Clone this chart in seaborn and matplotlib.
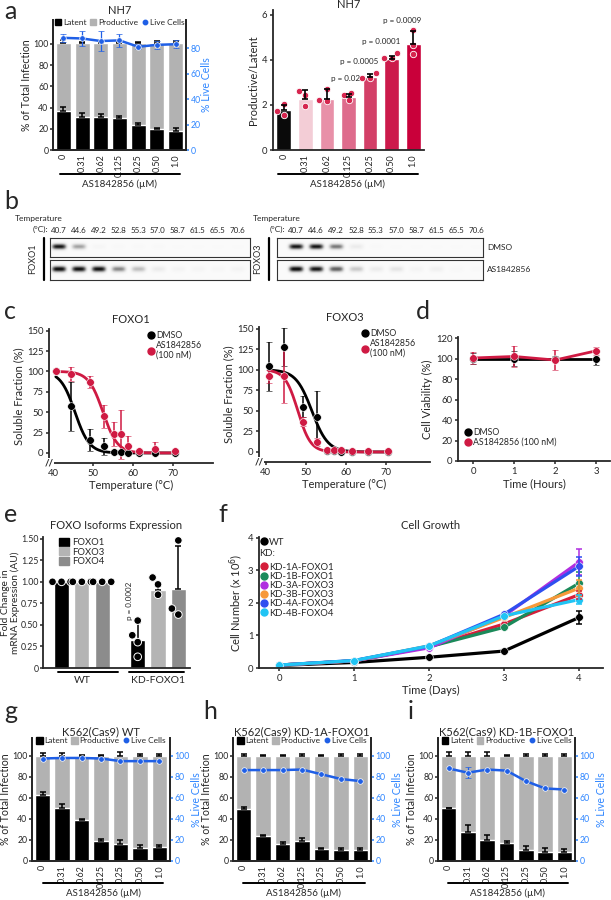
import numpy as np
import pandas as pd
import matplotlib
matplotlib.use("Agg")
import matplotlib.pyplot as plt
import seaborn as sns
from matplotlib.lines import Line2D
from matplotlib.patches import Patch

# ---------------- data ----------------
doses = ["0", "0.31", "0.62", "0.125", "0.25", "0.50", "1.0"]

# a, NH7 latent / productive
nh7_latent = [37, 31, 31, 30, 24, 20, 18]
nh7_latent_err = [4, 4, 3, 2, 1, 1, 2.5]
nh7_total = [101, 101, 101, 101, 101, 101, 101]
nh7_total_err = [3, 0.5, 0.5, 0.5, 1, 1.5, 1.5]
nh7_live = [88, 87.5, 85.5, 86, 81, 82.5, 83]
nh7_live_err = [3, 6, 8, 5, 2, 3, 3]

# a, productive / latent ratio
ratio_mean = [1.75, 2.27, 2.26, 2.33, 3.25, 4.05, 4.7]
ratio_err = [0.25, 0.38, 0.42, 0.15, 0.12, 0.1, 0.55]
ratio_pts = [[2.05, 1.57, 1.71], [2.45, 1.97, 2.63], [2.19, 2.7, 2.23], [2.2, 2.51, 2.45],
             [3.21, 3.43, 3.21], [4.06, 4.3, 4.06], [5.33, 4.67, 4.23]]
ratio_colors = ["#0a0a0a", "#f3cdd6", "#e890a8", "#de6b8c", "#d33f67", "#cc1a4b", "#c9003a"]
ratio_p = ["p = 0.02", "p = 0.0005", "p = 0.0001", "p = 0.0009"]

# b, western blot band intensities
blot_temps = ["40.7", "44.6", "49.2", "52.8", "55.3", "57.0", "58.7", "61.5", "65.5", "70.6"]
foxo1_dmso_band = [0.95, 0.45, 0.04, 0.02, 0.02, 0.02, 0.01, 0.01, 0.01, 0.01]
foxo1_as_band = [1.0, 0.97, 0.97, 0.55, 0.35, 0.12, 0.06, 0.05, 0.04, 0.06]
foxo3_dmso_band = [0.95, 0.95, 0.6, 0.12, 0.02, 0.01, 0.01, 0.01, 0.01, 0.01]
foxo3_as_band = [1.0, 0.95, 0.7, 0.3, 0.12, 0.16, 0.06, 0.09, 0.03, 0.02]

# c, thermal shift
c_temps = [40.7, 44.6, 49.2, 52.8, 55.3, 57.0, 58.7, 61.5, 65.5, 70.6]
foxo1_dmso = [100, 57, 16, 8, 1, 1, 0, 0, 0, 0]
foxo1_dmso_err = [0, 30, 14, 10, 1, 1, 1, 0, 0, 0]
foxo1_as = [100, 97, 87, 45, 23, 23, 9, 3, 5, 2]
foxo1_as_err = [1, 9, 7, 14, 15, 30, 12, 1, 8, 1]
foxo3_dmso = [104, 128, 55, 42, 1, 1, 0, 0, 0, 0]
foxo3_dmso_err = [30, 23, 13, 32, 2, 2, 1, 1, 1, 1]
foxo3_as = [92, 93, 37, 12, 3, 2, 2, 1, 1, 1]
foxo3_as_err = [8, 33, 6, 5, 1, 1, 1, 1, 1, 1]
# fitted melting curves (Tm, slope)
fit_foxo1_dmso = (45.5, 1.8)
fit_foxo1_as = (52.5, 1.8)
fit_foxo3_dmso = (51.5, 2.0)
fit_foxo3_as = (48.0, 1.6)

# d, cell viability
d_hours = [0, 1, 2, 3]
d_dmso = [100, 100, 100, 100]
d_dmso_err = [5, 7, 2, 6]
d_as = [100.5, 102, 98.5, 107.5]
d_as_err = [6, 10, 10, 4]

# e, FOXO isoform expression
e_groups = ["WT", "KD-FOXO1"]
e_iso = ["FOXO1", "FOXO3", "FOXO4"]
e_wt_mean = [1.0, 1.0, 1.0]
e_kd_mean = [0.33, 0.91, 0.92]
e_kd_err = [0.19, 0.07, 0.5]
e_wt_pts = [[1.0, 1.0, 1.0], [1.0, 1.0, 1.0], [1.0, 1.0, 1.0]]
e_kd_pts = [[0.55, 0.38, 0.30, 0.13], [1.05, 0.97, 0.85], [1.48, 0.69, 0.62]]
e_colors = ["#000000", "#b4b4b4", "#8c8c8c"]

# f, cell growth
f_days = [0, 1, 2, 3, 4]
f_lines = ["WT", "KD-1A-FOXO1", "KD-1B-FOXO1", "KD-3A-FOXO3", "KD-3B-FOXO3", "KD-4A-FOXO4", "KD-4B-FOXO4"]
f_colors = ["#000000", "#d51e3a", "#1b8a5a", "#b02ee0", "#f7993a", "#2f4ff0", "#20c4f4"]
f_wt = [0.08, 0.17, 0.33, 0.52, 1.55]
f_1a = [0.09, 0.22, 0.65, 1.35, 2.25]
f_1b = [0.09, 0.22, 0.65, 1.25, 2.6]
f_3a = [0.09, 0.22, 0.62, 1.6, 3.25]
f_3b = [0.09, 0.22, 0.68, 1.55, 2.45]
f_4a = [0.09, 0.23, 0.67, 1.65, 3.12]
f_4b = [0.09, 0.23, 0.68, 1.6, 2.1]
f_err_day4 = [0.2, 0.12, 0.35, 0.4, 0.25, 0.3, 0.15]

# g, h, i
g_latent = [63, 50, 39, 19.5, 16, 12.5, 13]
g_latent_err = [3, 4, 1, 1.5, 4, 2.5, 2.5]
g_total_err = [2.5, 3, 1, 1, 4, 1.5, 1.5]
g_live = [97.5, 98, 98, 97.5, 95, 95, 95]

h_latent = [49, 24, 16, 19, 11, 10.5, 10]
h_latent_err = [2, 1, 2, 2.5, 1.5, 2, 2]
h_total_err = [1.5, 1, 1, 2, 1, 1.5, 1.5]
h_live = [86.5, 86.5, 86.5, 87, 82.5, 78, 76]

i_latent = [50, 28, 20, 17.5, 10.5, 9, 9]
i_latent_err = [0.5, 6, 5, 2, 4, 3, 2.5]
i_total_err = [4, 4, 4, 1, 2, 2, 2]
i_live = [88, 84, 87, 86, 76, 69, 68]
i_live_err = [0, 5, 0, 0, 0, 0, 0]

full_total = [100] * 7

# ---------------- style ----------------
sns.set_theme(style="ticks")
plt.rcParams["font.family"] = ["Lato", "DejaVu Sans"]
plt.rcParams.update({
    "axes.linewidth": 1.3, "xtick.major.width": 1.1, "ytick.major.width": 1.1,
    "xtick.major.size": 2.5, "ytick.major.size": 2.5,
    "xtick.labelsize": 6.8, "ytick.labelsize": 6.8, "axes.labelsize": 8,
    "xtick.major.pad": 1.5, "ytick.major.pad": 1.5, "axes.labelpad": 2,
})

W, H = 611, 900
fig = plt.figure(figsize=(W / 100, H / 100), dpi=100)

GRAY = "#b2b2b2"
BLUE_TXT = "#2f86ff"
BLUE_LINE = "#1f5fe6"
RED = "#cf1a43"


def box(x0, y0, x1, y1):
    return fig.add_axes([x0 / W, 1 - y1 / H, (x1 - x0) / W, (y1 - y0) / H])


def ftext(x, y, s, **kw):
    fig.text(x / W, 1 - y / H, s, **kw)


def hline(x0, x1, y, lw=1.4):
    fig.add_artist(Line2D([x0 / W, x1 / W], [1 - y / H, 1 - y / H], color="black", lw=lw))


def infection_panel(ax, latent, latent_err, total, total_err, live, live_err,
                    ylim_l, ylim_r, r_ticks, title=None):
    n = len(doses)
    pos = np.arange(n)
    df = pd.DataFrame({"dose": doses, "latent": latent, "total": total})
    sns.barplot(data=df, x="dose", y="total", order=doses, color=GRAY, saturation=1,
                width=0.8, ax=ax)
    sns.barplot(data=df, x="dose", y="latent", order=doses, color="black", saturation=1,
                width=0.8, ax=ax)
    ax.errorbar(pos, total, yerr=[np.zeros(n), total_err], fmt="none", ecolor="black",
                capsize=2.2, elinewidth=1.1, capthick=1.1)
    ax.errorbar(pos, latent, yerr=[np.zeros(n), latent_err], fmt="none", ecolor="black",
                capsize=2.2, elinewidth=1.1, capthick=1.1)
    ax.set_ylim(*ylim_l)
    ax.set_yticks([0, 20, 40, 60, 80, 100])
    ax.set_xlabel("")
    ax.set_ylabel("% of Total Infection", fontsize=7.6, labelpad=0.5)
    ax.tick_params(axis="y", labelsize=6.3, length=2.2, pad=1)
    ax.tick_params(axis="x", rotation=90, length=0, pad=3, labelsize=6.5)
    ax.spines["top"].set_visible(False)
    ax.set_xlim(-0.55, n - 0.45)

    ax2 = ax.twinx()
    ax2.errorbar(pos, live, yerr=live_err, color=BLUE_LINE, marker="o", ms=4,
                 mec="white", mew=0.5, lw=1.8, capsize=2, elinewidth=0.9, capthick=0.9)
    ax2.set_ylim(*ylim_r)
    ax2.set_yticks(r_ticks)
    ax2.tick_params(axis="y", colors=BLUE_TXT, labelsize=6.3, length=2.2, pad=1)
    ax2.set_ylabel("% Live Cells", color=BLUE_TXT, fontsize=7.6, labelpad=0.5)
    ax2.spines["top"].set_visible(False)
    ax2.spines["right"].set_linewidth(1.3)

    handles = [Patch(color="black", label="Latent"), Patch(color=GRAY, label="Productive"),
               Line2D([], [], color=BLUE_LINE, marker="o", ls="", ms=3.2, label="Live Cells")]
    ax2.legend(handles=handles, loc="upper center", bbox_to_anchor=(0.5, 1.04), ncol=3,
               frameon=False, fontsize=6, handlelength=0.8, handleheight=0.8,
               handletextpad=0.2, columnspacing=0.4, borderpad=0)
    if title:
        ax.set_title(title, fontsize=8, pad=2)
    return ax2


# ---------------- panel a ----------------
ax = box(53, 20, 186, 150)
infection_panel(ax, nh7_latent, nh7_latent_err, nh7_total, nh7_total_err, nh7_live,
                nh7_live_err, (0, 122.6), (0, 102), [0, 20, 40, 60, 80])
ax.set_title("NH7", fontsize=8, pad=4)
hline(60, 180, 174)
ftext(120, 184, "AS1842856 (\u00b5M)", ha="center", va="center", fontsize=7)

ax = box(273, 10, 424, 150)
n = len(doses)
rdf = pd.DataFrame({"dose": doses, "ratio": ratio_mean})
sns.barplot(data=rdf, x="dose", y="ratio", hue="dose", order=doses, hue_order=doses,
            palette=dict(zip(doses, ratio_colors)), legend=False, saturation=1,
            width=0.68, ax=ax)
pdf = pd.DataFrame({"dose": np.repeat(doses, 3), "ratio": np.concatenate(ratio_pts)})
sns.swarmplot(data=pdf, x="dose", y="ratio", order=doses, color="#d6264f", size=4.6,
              edgecolor="white", linewidth=0.6, ax=ax, zorder=3)
ax.errorbar(np.arange(n), ratio_mean, yerr=[np.zeros(n), ratio_err], fmt="none",
            ecolor="black", capsize=2.2, elinewidth=1.2, capthick=1.2, zorder=4)
ax.set_ylim(0, 6.2)
ax.set_yticks([0, 2, 4, 6])
ax.set_xlim(-0.5, n - 0.5)
ax.set_xlabel("")
ax.set_ylabel("Productive/Latent")
ax.tick_params(axis="x", rotation=90, length=0, pad=3, labelsize=6.5)
sns.despine(ax=ax)
ax.set_title("NH7", fontsize=8, pad=0)
for xx, yy, s in [(3.55, 3.18, ratio_p[0]), (4.4, 3.91, ratio_p[1]),
                  (5.38, 4.82, ratio_p[2]), (6.36, 5.74, ratio_p[3])]:
    ax.text(xx, yy, s, ha="right", va="center", fontsize=5.8)
hline(278, 418, 174)
ftext(348, 184, "AS1842856 (\u00b5M)", ha="center", va="center", fontsize=7)

# ---------------- panel b ----------------


def blot(ax, intens, xlim):
    xs = np.linspace(xlim[0], xlim[1], 500)
    ys = np.linspace(0, 1, 50)
    X, Y = np.meshgrid(xs, ys)
    img = np.full(X.shape, 0.04)
    for k, v in enumerate(intens):
        img += v * np.exp(-((X - k) / 0.36) ** 4) * np.exp(-((Y - 0.45) / 0.15) ** 2)
    ax.imshow(np.clip(img, 0, 1), cmap="Greys", vmin=0, vmax=1.05, aspect="auto",
              extent=(xlim[0], xlim[1], 1, 0), interpolation="bilinear")
    ax.set_xlim(*xlim)
    ax.set_xticks([])
    ax.set_yticks([])
    for s in ax.spines.values():
        s.set_linewidth(0.8)
        s.set_color("#333333")


xl1 = (-0.45, 9.65)
ax = box(50, 238, 250, 257)
blot(ax, foxo1_dmso_band, xl1)
for k, t in enumerate(blot_temps):
    ax.text(k, 1.22, t, transform=ax.get_xaxis_transform(), ha="center", va="bottom", fontsize=5.8)
ax = box(50, 260, 250, 280)
blot(ax, foxo1_as_band, xl1)
ftext(15, 218, "Temperature", fontsize=6, va="center")
ftext(48, 229, "(\u00b0C):", fontsize=6, va="center", ha="right")
ftext(33, 259, "FOXO1", fontsize=6.5, rotation=90, ha="center", va="center")
fig.add_artist(Line2D([44 / W, 44 / W], [1 - 238 / H, 1 - 280 / H], color="black", lw=1.6))

xl2 = (-0.95, 9.35)
ax = box(277, 238, 483, 257)
blot(ax, foxo3_dmso_band, xl2)
for k, t in enumerate(blot_temps):
    ax.text(k, 1.22, t, transform=ax.get_xaxis_transform(), ha="center", va="bottom", fontsize=5.8)
ax = box(277, 260, 483, 280)
blot(ax, foxo3_as_band, xl2)
ftext(253, 218, "Temperature", fontsize=6, va="center")
ftext(285, 229, "(\u00b0C):", fontsize=6, va="center", ha="right")
ftext(258, 259, "FOXO3", fontsize=6.5, rotation=90, ha="center", va="center")
fig.add_artist(Line2D([269 / W, 269 / W], [1 - 238 / H, 1 - 280 / H], color="black", lw=1.6))
ftext(487, 248, "DMSO", fontsize=6, va="center")
ftext(487, 270, "AS1842856", fontsize=6, va="center")

# ---------------- panel c ----------------


def melt_curve(tm, slope):
    grid = np.linspace(c_temps[0], c_temps[-1], 300)
    return grid, 100 / (1 + np.exp((grid - tm) / slope))


def cetsa(ax, dm, dm_err, asv, as_err, fit_dm, fit_as, title):
    gx, gy = melt_curve(*fit_dm)
    sns.lineplot(x=gx, y=gy, color="black", lw=2.0, ax=ax)
    ax.errorbar(c_temps, dm, yerr=dm_err, fmt="o", color="black", ms=5.5, mec="white",
                mew=0.4, capsize=2, elinewidth=1.1, capthick=1.1)
    gx, gy = melt_curve(*fit_as)
    sns.lineplot(x=gx, y=gy, color=RED, lw=2.0, ax=ax)
    ax.errorbar(c_temps, asv, yerr=as_err, fmt="o", color=RED, ms=5.5, mec="white",
                mew=0.4, capsize=2, elinewidth=1.1, capthick=1.1)
    ax.set_yticks([0, 25, 50, 75, 100, 125, 150])
    ax.set_xticks([40, 50, 60, 70])
    ax.set_xlabel("Temperature (\u00b0C)")
    ax.set_ylabel("Soluble Fraction (%)")
    ax.set_title(title, fontsize=8, pad=4)
    sns.despine(ax=ax)
    ax.text(0, 0, "//", transform=ax.transAxes, ha="center", va="center", fontsize=7,
            fontweight="bold", bbox=dict(fc="white", ec="none", pad=0.3))
    handles = [Line2D([], [], color="black", marker="o", ls="", ms=5, label="DMSO"),
               Line2D([], [], color=RED, marker="o", ls="", ms=5, label="AS1842856\n(100 nM)")]
    ax.legend(handles=handles, loc="upper left", bbox_to_anchor=(0.58, 1.02), frameon=False,
              fontsize=6.3, handlelength=0.6, handletextpad=0.3, labelspacing=0.1, borderpad=0)


ax = box(49, 329, 213, 463)
cetsa(ax, foxo1_dmso, foxo1_dmso_err, foxo1_as, foxo1_as_err, fit_foxo1_dmso, fit_foxo1_as, "FOXO1")
ax.set_xlim(39, 80)
ax.set_ylim(-12.3, 152)

ax = box(259, 327, 430, 462)
cetsa(ax, foxo3_dmso, foxo3_dmso_err, foxo3_as, foxo3_as_err, fit_foxo3_dmso, fit_foxo3_as, "FOXO3")
ax.set_xlim(38.3, 81)
ax.set_ylim(-12.2, 152)

# ---------------- panel d ----------------
ax = box(458, 337, 610, 461)
sns.lineplot(x=d_hours, y=d_dmso, color="black", lw=2.0, ax=ax)
ax.errorbar(d_hours, d_dmso, yerr=d_dmso_err, fmt="o", color="black", ms=5.5, mec="white",
            mew=0.4, capsize=2, elinewidth=1.1, capthick=1.1)
sns.lineplot(x=d_hours, y=d_as, color=RED, lw=2.0, ax=ax)
ax.errorbar(d_hours, d_as, yerr=d_as_err, fmt="o", color=RED, ms=5.5, mec="white",
            mew=0.4, capsize=2, elinewidth=1.1, capthick=1.1)
ax.set_xlim(-0.37, 3.34)
ax.set_ylim(0, 121)
ax.set_yticks([0, 20, 40, 60, 80, 100, 120])
ax.set_xticks([0, 1, 2, 3])
ax.set_xlabel("Time (Hours)")
ax.set_ylabel("Cell Viability (%)")
sns.despine(ax=ax)
handles = [Line2D([], [], color="black", marker="o", ls="", ms=5, label="DMSO"),
           Line2D([], [], color=RED, marker="o", ls="", ms=5, label="AS1842856 (100 nM)")]
ax.legend(handles=handles, loc="lower left", bbox_to_anchor=(0.02, 0.08), frameon=False,
          fontsize=6.3, handlelength=0.6, handletextpad=0.3, labelspacing=0.1, borderpad=0)

# ---------------- panel e ----------------
ax = box(43, 537, 190, 668)
edf = pd.DataFrame({"group": np.repeat(e_groups, 3), "iso": e_iso * 2,
                    "val": e_wt_mean + e_kd_mean})
sns.barplot(data=edf, x="group", y="val", hue="iso", order=e_groups, hue_order=e_iso,
            palette=dict(zip(e_iso, e_colors)), saturation=1, width=0.8, gap=0.25,
            legend=False, ax=ax)
bars = list(ax.patches)
errs = []
for k in range(3):
    errs += [0.0, e_kd_err[k]]
for p, er in zip(bars, errs):
    if er > 0:
        ax.errorbar(p.get_x() + p.get_width() / 2, p.get_height(), yerr=[[0], [er]],
                    fmt="none", ecolor="black", capsize=2.5, elinewidth=1.1, capthick=1.1)
rows = []
for g, pts_list in zip(e_groups, [e_wt_pts, e_kd_pts]):
    for iso, pts in zip(e_iso, pts_list):
        for v in pts:
            rows.append({"group": g, "iso": iso, "val": v})
sdf = pd.DataFrame(rows)
sns.swarmplot(data=sdf, x="group", y="val", hue="iso", order=e_groups, hue_order=e_iso,
              dodge=True, palette={k: "black" for k in e_iso}, size=5.5, edgecolor="white",
              linewidth=0.7, legend=False, ax=ax, zorder=3)
ax.set_xlim(-0.51, 1.42)
ax.set_ylim(0, 1.52)
ax.set_yticks([0, 0.25, 0.5, 0.75, 1.0, 1.25, 1.5])
ax.set_yticklabels(["0", "0.25", "0.50", "0.75", "1.00", "1.25", "1.50"])
ax.tick_params(axis="y", labelsize=6.3, length=2.2, pad=1)
ax.set_xlabel("")
ax.set_ylabel("Fold Change in\nmRNA Expression (AU)", linespacing=0.95, fontsize=7.3,
              labelpad=1)
ax.tick_params(axis="x", length=0, pad=6, labelsize=7.5)
sns.despine(ax=ax)
ax.set_title("FOXO Isoforms Expression", fontsize=8, pad=6)
ax.text(0.63, 0.78, "p = 0.0002", rotation=90, ha="center", va="center", fontsize=5.8)
handles = [Patch(color=c, label=l) for c, l in zip(e_colors, e_iso)]
ax.legend(handles=handles, loc="upper left", bbox_to_anchor=(0.08, 1.03), frameon=False,
          fontsize=6.8, handlelength=1.0, handleheight=0.9, handletextpad=0.3,
          labelspacing=0.05, borderpad=0)
hline(58, 118, 672)
hline(129, 184, 672)

# ---------------- panel f ----------------
ax = box(259, 537, 603, 668)
f_vals = [f_wt, f_1a, f_1b, f_3a, f_3b, f_4a, f_4b]
fdf = pd.DataFrame({"day": f_days * len(f_lines),
                    "line": np.repeat(f_lines, len(f_days)),
                    "n": np.concatenate(f_vals)})
sns.lineplot(data=fdf, x="day", y="n", hue="line", hue_order=f_lines,
             palette=dict(zip(f_lines, f_colors)), lw=2.3, marker="o", ms=5.5,
             markeredgecolor="white", markeredgewidth=0.4, legend=False, ax=ax)
for vals, col, er in zip(f_vals, f_colors, f_err_day4):
    ax.errorbar(f_days[-1], vals[-1], yerr=er, fmt="none", ecolor=col, capsize=2.5,
                elinewidth=1.1, capthick=1.1)
ax.set_xlim(-0.27, 4.32)
ax.set_ylim(0, 4.02)
ax.set_yticks([0, 1, 2, 3, 4])
ax.set_xticks([0, 1, 2, 3, 4])
ax.set_xlabel("Time (Days)")
ax.set_ylabel("Cell Number (x 10$^6$)")
sns.despine(ax=ax)
ax.set_title("Cell Growth", fontsize=8, pad=6)
wt_h = [Line2D([], [], color="black", marker="o", ls="", ms=5, label="WT")]
leg1 = ax.legend(handles=wt_h, loc="upper left", bbox_to_anchor=(-0.005, 1.03), frameon=False,
                 fontsize=6.8, handlelength=0.5, handletextpad=0.2, borderpad=0)
ax.add_artist(leg1)
ax.text(0.0, 0.875, "KD:", transform=ax.transAxes, fontsize=6.8, va="center")
kd_h = [Line2D([], [], color=c, marker="o", ls="", ms=5, label=l)
        for c, l in zip(f_colors[1:], f_lines[1:])]
ax.legend(handles=kd_h, loc="upper left", bbox_to_anchor=(-0.005, 0.84), frameon=False,
          fontsize=6.8, handlelength=0.5, handletextpad=0.3, labelspacing=0.02, borderpad=0)

# ---------------- panels g, h, i ----------------
ax = box(32, 738, 170, 861)
infection_panel(ax, g_latent, g_latent_err, full_total, g_total_err, g_live, [0] * 7,
                (0, 117), (0, 117), [0, 20, 40, 60, 80, 100], "K562(Cas9) WT")
hline(43, 163, 883)
ftext(103, 893, "AS1842856 (\u00b5M)", ha="center", va="center", fontsize=7)

ax = box(233, 738, 371, 861)
infection_panel(ax, h_latent, h_latent_err, full_total, h_total_err, h_live, [0] * 7,
                (0, 117), (0, 117), [0, 20, 40, 60, 80, 100], "K562(Cas9) KD-1A-FOXO1")
hline(243, 365, 883)
ftext(304, 893, "AS1842856 (\u00b5M)", ha="center", va="center", fontsize=7)

ax = box(438, 738, 575, 861)
infection_panel(ax, i_latent, i_latent_err, full_total, i_total_err, i_live, i_live_err,
                (0, 117), (0, 117), [0, 20, 40, 60, 80, 100], "K562(Cas9) KD-1B-FOXO1")
hline(448, 568, 883)
ftext(508, 893, "AS1842856 (\u00b5M)", ha="center", va="center", fontsize=7)

# ---------------- panel letters ----------------
for x, y, s in [(4, 0, "a"), (4, 190, "b"), (4, 300, "c"), (416, 300, "d"), (4, 503, "e"),
                (218, 503, "f"), (4, 700, "g"), (203, 700, "h"), (408, 700, "i")]:
    ftext(x, y, s, fontsize=18, va="top")

fig.savefig("out.png", dpi=100)
